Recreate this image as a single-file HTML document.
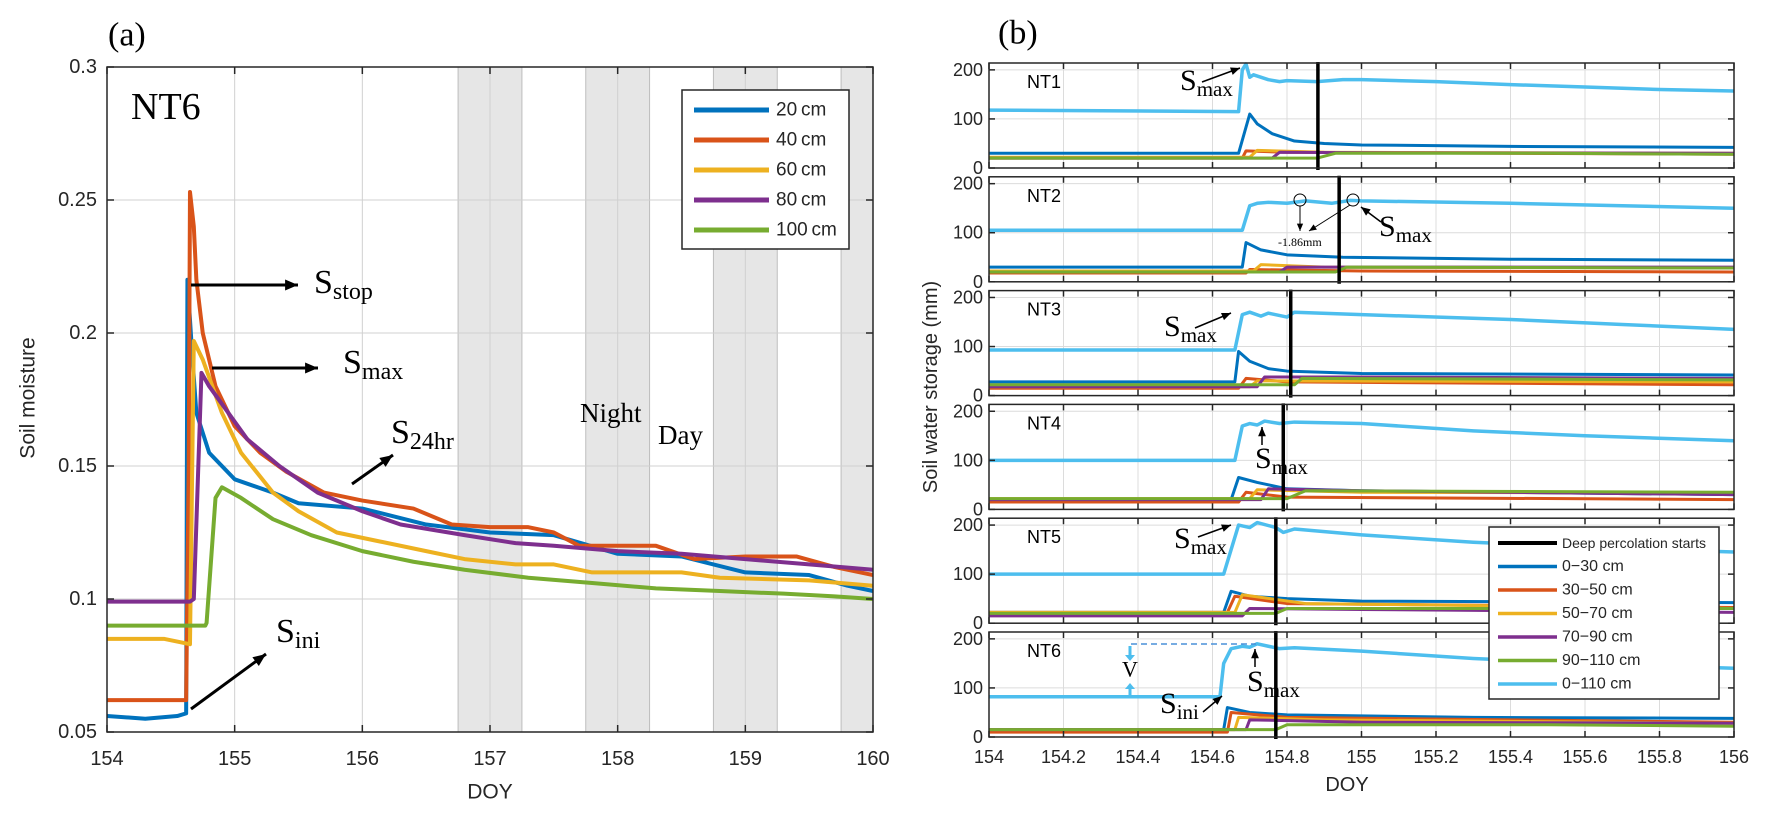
<!DOCTYPE html>
<html><head><meta charset="utf-8"><style>
html,body{margin:0;padding:0;background:#fff;}
svg{display:block;font-family:"Liberation Sans",sans-serif;}
.serif{font-family:"Liberation Serif",serif;}
</style></head><body>
<svg id="fig" width="1769" height="821" viewBox="0 0 1769 821" xmlns="http://www.w3.org/2000/svg"></svg>
<script>
// ---------- Panel (a) data ----------
const aXTicks=[154,155,156,157,158,159,160];
const aYTicks=[0.05,0.1,0.15,0.2,0.25,0.3];
const aYTickLabels=["0.05","0.1","0.15","0.2","0.25","0.3"];
const aBands=[[156.75,157.25],[157.75,158.25],[158.75,159.25],[159.75,160]];
const aNames=["20 cm","40 cm","60 cm","80 cm","100 cm"];
const a20x=[154,154.3,154.55,154.62,154.63,154.67,154.7,154.8,155,155.3,155.5,156,156.5,157,157.5,158,158.5,159,159.5,159.8,160];
const a20y=[0.056,0.055,0.056,0.057,0.22,0.19,0.17,0.155,0.145,0.14,0.136,0.134,0.128,0.125,0.124,0.117,0.116,0.11,0.109,0.105,0.103];
const a40x=[154,154.62,154.64,154.65,154.68,154.7,154.75,154.85,155,155.2,155.4,155.7,156,156.4,156.7,157,157.3,157.5,157.7,158.3,158.6,159,159.4,159.7,160];
const a40y=[0.062,0.062,0.15,0.253,0.24,0.22,0.2,0.18,0.165,0.155,0.148,0.14,0.137,0.134,0.128,0.127,0.127,0.125,0.12,0.12,0.115,0.116,0.116,0.112,0.109];
const a60x=[154,154.45,154.65,154.68,154.75,154.9,155.05,155.3,155.5,155.8,156.1,156.5,156.8,157.2,157.5,157.8,158.5,158.8,159.5,160];
const a60y=[0.085,0.085,0.083,0.197,0.19,0.17,0.155,0.14,0.133,0.125,0.122,0.118,0.115,0.113,0.113,0.11,0.11,0.108,0.107,0.105];
const a80x=[154,154.65,154.68,154.74,154.8,154.95,155.1,155.35,155.65,156,156.3,156.8,157.2,157.5,158,158.5,159,159.5,160];
const a80y=[0.099,0.099,0.1,0.185,0.18,0.17,0.16,0.15,0.14,0.133,0.128,0.124,0.121,0.12,0.118,0.117,0.115,0.113,0.111];
const a100x=[154,154.77,154.78,154.85,154.9,155.05,155.3,155.6,156,156.4,156.8,157.3,157.8,158.3,158.8,159.3,159.7,160];
const a100y=[0.09,0.09,0.091,0.138,0.142,0.138,0.13,0.124,0.118,0.114,0.111,0.108,0.106,0.104,0.103,0.102,0.101,0.1];

// ---------- Panel (b) data ----------
const bXTicks=[154,154.2,154.4,154.6,154.8,155,155.2,155.4,155.6,155.8,156];
const bYTicks=[0,100,200];
const bPanels=["NT1","NT2","NT3","NT4","NT5","NT6"];
const bPerc=[154.883,154.94,154.81,154.79,154.77,154.77];
const bNames=["Deep percolation starts","0\u221230 cm","30\u221250 cm","50\u221270 cm","70\u221290 cm","90\u2212110 cm","0\u2212110 cm"];
// NT1
const nt1_030=[[154,30],[154.67,30],[154.7,110],[154.72,90],[154.76,70],[154.82,55],[154.9,50],[155,47],[155.4,44],[156,42]];
const nt1_3050=[[154,20],[154.68,20],[154.69,35],[154.8,32],[156,28]];
const nt1_5070=[[154,22],[154.7,22],[154.72,36],[154.9,32],[156,30]];
const nt1_7090=[[154,20],[154.76,20],[154.78,32],[155,31],[156,30]];
const nt1_90110=[[154,20],[154.88,20],[154.93,30],[155.5,30],[156,28]];
const nt1_0110=[[154,118],[154.67,115],[154.68,200],[154.69,212],[154.7,185],[154.71,190],[154.75,180],[154.78,176],[154.8,178],[154.88,176],[154.95,180],[155,180],[155.2,176],[155.4,170],[155.6,165],[155.8,160],[156,157]];
// NT2
const nt2_030=[[154,30],[154.68,30],[154.69,80],[154.73,65],[154.8,55],[154.95,50],[155.4,46],[156,44]];
const nt2_3050=[[154,18],[154.69,18],[154.7,25],[155,22],[156,20]];
const nt2_5070=[[154,22],[154.71,22],[154.73,35],[154.9,30],[156,28]];
const nt2_7090=[[154,20],[154.78,20],[154.8,30],[156,30]];
const nt2_90110=[[154,20],[154.93,20],[154.96,30],[156,28]];
const nt2_0110=[[154,105],[154.68,105],[154.7,155],[154.72,160],[154.75,162],[154.8,160],[154.85,165],[154.92,160],[154.97,166],[155,165],[155.4,160],[155.7,155],[156,150]];
// NT3
const nt3_030=[[154,28],[154.66,28],[154.67,90],[154.7,70],[154.75,55],[154.8,50],[155,45],[156,42]];
const nt3_3050=[[154,15],[154.67,15],[154.69,35],[154.8,28],[156,22]];
const nt3_5070=[[154,18],[154.7,18],[154.72,30],[156,28]];
const nt3_7090=[[154,18],[154.72,18],[154.74,38],[155,38],[156,35]];
const nt3_90110=[[154,22],[154.82,22],[154.84,35],[156,32]];
const nt3_0110=[[154,93],[154.66,93],[154.68,165],[154.7,170],[154.73,162],[154.75,168],[154.8,160],[154.82,170],[155,165],[155.4,155],[155.7,145],[156,135]];
// NT4
const nt4_030=[[154,20],[154.65,20],[154.67,65],[154.72,55],[154.8,42],[155,38],[156,30]];
const nt4_3050=[[154,15],[154.67,15],[154.69,35],[154.8,25],[156,20]];
const nt4_5070=[[154,22],[154.7,22],[154.72,40],[155,35],[156,33]];
const nt4_7090=[[154,20],[154.73,20],[154.75,42],[155,38],[156,30]];
const nt4_90110=[[154,22],[154.8,22],[154.85,38],[156,35]];
const nt4_0110=[[154,100],[154.66,100],[154.68,170],[154.7,175],[154.72,172],[154.74,180],[154.78,175],[154.82,178],[155,175],[155.3,160],[155.6,150],[156,140]];
// NT5
const nt5_030=[[154,22],[154.63,22],[154.65,65],[154.7,55],[154.8,50],[155,45],[156,42]];
const nt5_3050=[[154,22],[154.64,22],[154.66,55],[154.8,40],[156,32]];
const nt5_5070=[[154,22],[154.66,22],[154.68,58],[154.85,40],[156,30]];
const nt5_7090=[[154,15],[154.68,15],[154.7,30],[155,28],[156,22]];
const nt5_90110=[[154,20],[154.77,20],[154.8,30],[156,30]];
const nt5_0110=[[154,100],[154.63,100],[154.67,200],[154.7,195],[154.72,205],[154.77,195],[154.79,185],[154.82,192],[155,180],[155.3,165],[155.6,155],[156,145]];
// NT6
const nt6_030=[[154,15],[154.63,15],[154.64,60],[154.7,50],[154.8,45],[155.3,40],[156,38]];
const nt6_3050=[[154,10],[154.64,10],[154.65,50],[154.8,40],[156,30]];
const nt6_5070=[[154,15],[154.66,15],[154.67,40],[154.9,35],[156,28]];
const nt6_7090=[[154,15],[154.69,15],[154.7,35],[155,30],[156,28]];
const nt6_90110=[[154,15],[154.77,15],[154.8,25],[155.5,25],[156,22]];
const nt6_0110=[[154,82],[154.62,82],[154.63,150],[154.65,180],[154.68,185],[154.7,183],[154.72,190],[154.75,185],[154.78,180],[154.82,182],[155,175],[155.3,160],[155.6,150],[156,140]];

const bData=[
 [nt1_030,nt1_3050,nt1_5070,nt1_7090,nt1_90110,nt1_0110],
 [nt2_030,nt2_3050,nt2_5070,nt2_7090,nt2_90110,nt2_0110],
 [nt3_030,nt3_3050,nt3_5070,nt3_7090,nt3_90110,nt3_0110],
 [nt4_030,nt4_3050,nt4_5070,nt4_7090,nt4_90110,nt4_0110],
 [nt5_030,nt5_3050,nt5_5070,nt5_7090,nt5_90110,nt5_0110],
 [nt6_030,nt6_3050,nt6_5070,nt6_7090,nt6_90110,nt6_0110]];

const COLORS=["#0072BD","#D95319","#EDB120","#7E2F8E","#77AC30","#4DBEEE"];
const NS="http://www.w3.org/2000/svg";
const svg=document.getElementById('fig');

function mk(tag,parent,attrs){const e=document.createElementNS(NS,tag);for(const k in attrs)e.setAttribute(k,attrs[k]);parent.appendChild(e);return e;}
function txt(parent,x,y,s,size,anchor,cls){const t=mk('text',parent,{x:x,y:y,'font-size':size,'text-anchor':anchor||'start','dominant-baseline':'central',fill:'#262626'});if(cls)t.setAttribute('class',cls);t.textContent=s;return t;}
function arrow(parent,x1,y1,x2,y2,w,hl){
  const g=mk('g',parent,{});
  mk('line',g,{x1:x1,y1:y1,x2:x2,y2:y2,stroke:'#000','stroke-width':w});
  const a=Math.atan2(y2-y1,x2-x1),h=hl||12;
  const p=[[x2,y2],[x2-h*Math.cos(a-0.4),y2-h*Math.sin(a-0.4)],[x2-h*Math.cos(a+0.4),y2-h*Math.sin(a+0.4)]];
  mk('polygon',g,{points:p.map(q=>q.join(',')).join(' '),fill:'#000'});
  return g;
}
function sub(parent,x,y,main,subs,size,subsize,dy){
  const t=mk('text',parent,{x:x,y:y,'font-size':size,fill:'#000','dominant-baseline':'central',class:'serif'});
  const a=mk('tspan',t,{});a.textContent=main;
  const b=mk('tspan',t,{'font-size':subsize,dy:dy});b.textContent=subs;
  return t;
}

// ================= Panel (a) =================
const AL=107,AR=873,AT=67,AB=732;
const ax=v=>AL+(v-154)/6*(AR-AL);
const ay=v=>AB-(v-0.05)/0.25*(AB-AT);
const pa=mk('g',svg,{});


aBands.forEach(b=>{
  const r=mk('rect',pa,{x:ax(b[0]),y:AT,width:ax(b[1])-ax(b[0]),height:AB-AT,fill:'#e6e6e6',stroke:'#bdbdbd','stroke-width':1});
  
  
});
aXTicks.forEach(v=>{mk('line',pa,{x1:ax(v),x2:ax(v),y1:AT,y2:AB,stroke:'#d0d0d0','stroke-width':1});});
aYTicks.forEach(v=>{mk('line',pa,{x1:AL,x2:AR,y1:ay(v),y2:ay(v),stroke:'#d0d0d0','stroke-width':1});});
const aSeries=[[a20x,a20y],[a40x,a40y],[a60x,a60y],[a80x,a80y],[a100x,a100y]];
aSeries.forEach((s,i)=>{
  const pts=s[0].map((x,j)=>ax(x)+','+ay(s[1][j])).join(' ');
  const pl=mk('polyline',pa,{points:pts,fill:'none',stroke:COLORS[i],'stroke-width':4,'stroke-linejoin':'round'});
  
  
});
mk('rect',pa,{x:AL,y:AT,width:AR-AL,height:AB-AT,fill:'none',stroke:'#262626','stroke-width':1.5});
aXTicks.forEach(v=>{
  mk('line',pa,{x1:ax(v),x2:ax(v),y1:AB,y2:AB-7,stroke:'#262626','stroke-width':1.5});
  mk('line',pa,{x1:ax(v),x2:ax(v),y1:AT,y2:AT+7,stroke:'#262626','stroke-width':1.5});
  const t=txt(pa,ax(v),759,String(v),20,'middle');
  
  
});
aYTicks.forEach((v,i)=>{
  mk('line',pa,{x1:AL,x2:AL+7,y1:ay(v),y2:ay(v),stroke:'#262626','stroke-width':1.5});
  mk('line',pa,{x1:AR,x2:AR-7,y1:ay(v),y2:ay(v),stroke:'#262626','stroke-width':1.5});
  const t=txt(pa,97,ay(v),aYTickLabels[i],20,'end');
  
  
});
let t;
t=txt(pa,490,792,'DOY',21,'middle');


t=txt(pa,0,0,'Soil moisture',21,'middle');
t.setAttribute('transform','translate(28,398) rotate(-90)');


t=txt(pa,108,35,'(a)',34,'start','serif');t.setAttribute('fill','#000');


t=txt(pa,131,107,'NT6',38,'start','serif');t.setAttribute('fill','#000');


t=txt(pa,580,413,'Night',27,'start','serif');t.setAttribute('fill','#000');


t=txt(pa,658,435,'Day',27,'start','serif');t.setAttribute('fill','#000');


// annotations a
let g;
g=arrow(pa,191,285,298,285,3,14);


g=sub(pa,314,282,'S','stop',34,24,10);


g=arrow(pa,212,368,318,368,3,14);


g=sub(pa,343,362,'S','max',34,24,10);


g=arrow(pa,352,484,393,455,3,14);


g=sub(pa,391,432,'S','24hr',34,24,10);


g=arrow(pa,191,709,266,654,3,14);


g=sub(pa,276,631,'S','ini',34,24,10);


// legend a
const la=mk('g',pa,{});


mk('rect',la,{x:682,y:90,width:167,height:159,fill:'#fff',stroke:'#262626','stroke-width':1.5});
aNames.forEach((n,i)=>{
  const y=110+i*30;
  const e=mk('g',la,{});
  
  
  mk('line',e,{x1:694,x2:769,y1:y,y2:y,stroke:COLORS[i],'stroke-width':5});
  txt(e,776,y,n.replace(' ','\u2009'),19,'start');
});

// ================= Panel (b) =================
const BL=989,BR=1734,BT0=63,BSTEP=113.8,BH=105,BMAX=214;
const bx=v=>BL+(v-154)/2*(BR-BL);
const pb=mk('g',svg,{});


bPanels.forEach((name,p)=>{
  const top=BT0+p*BSTEP,bot=top+BH;
  const by=v=>bot-v/BMAX*BH;
  const sp=mk('g',pb,{});
  
  
  mk('rect',sp,{x:BL,y:top,width:BR-BL,height:BH,fill:'#fff'});
  bXTicks.forEach(v=>mk('line',sp,{x1:bx(v),x2:bx(v),y1:top,y2:bot,stroke:'#dcdcdc','stroke-width':1}));
  bYTicks.forEach(v=>mk('line',sp,{x1:BL,x2:BR,y1:by(v),y2:by(v),stroke:'#dcdcdc','stroke-width':1}));
  bData[p].forEach((s,i)=>{
    const pts=s.map(q=>bx(q[0])+','+by(q[1])).join(' ');
    const pl=mk('polyline',sp,{points:pts,fill:'none',stroke:COLORS[i],'stroke-width':i==5?3.5:3,'stroke-linejoin':'round'});
    
    
  });
  const vl=mk('line',sp,{x1:bx(bPerc[p]),x2:bx(bPerc[p]),y1:top-1,y2:bot+2,stroke:'#000','stroke-width':3.5});
  
  
  mk('rect',sp,{x:BL,y:top,width:BR-BL,height:BH,fill:'none',stroke:'#262626','stroke-width':1.5});
  bXTicks.forEach(v=>{
    mk('line',sp,{x1:bx(v),x2:bx(v),y1:bot,y2:bot-6,stroke:'#262626','stroke-width':1.5});
    mk('line',sp,{x1:bx(v),x2:bx(v),y1:top,y2:top+6,stroke:'#262626','stroke-width':1.5});
  });
  bYTicks.forEach(v=>{
    mk('line',sp,{x1:BL,x2:BL+6,y1:by(v),y2:by(v),stroke:'#262626','stroke-width':1.5});
    mk('line',sp,{x1:BR,x2:BR-6,y1:by(v),y2:by(v),stroke:'#262626','stroke-width':1.5});
    const tl=txt(sp,983,by(v),String(v),18,'end');
    
    
  });
  const nl=txt(sp,1027,top+19,name,18,'start');
  nl.setAttribute('fill','#000');
  
  
});
const bBot=BT0+5*BSTEP+BH;
bXTicks.forEach(v=>{
  const tl=txt(pb,bx(v),bBot+20,String(v),18,'middle');
  
  
});
t=txt(pb,1347,785,'DOY',20,'middle');


t=txt(pb,0,0,'Soil water storage (mm)',20,'middle');
t.setAttribute('transform','translate(931,387) rotate(-90)');


t=txt(pb,998,33,'(b)',34,'start','serif');t.setAttribute('fill','#000');



// annotations b
const ann=mk('g',pb,{});


sub(ann,1180,80,'S','max',30,21,9);
arrow(ann,1202,82,1240,68,1.5,10);
// NT2
mk('circle',ann,{cx:1300,cy:200,r:6,fill:'none',stroke:'#000','stroke-width':1});
mk('circle',ann,{cx:1353,cy:200,r:6,fill:'none',stroke:'#000','stroke-width':1});
arrow(ann,1300,206,1300,231,1,8);
arrow(ann,1350,205,1309,231,1,8);
t=txt(ann,1278,242,'-1.86mm',12,'start','serif');t.setAttribute('fill','#000');


sub(ann,1379,226,'S','max',30,21,9);
arrow(ann,1381,222,1361,207,1.5,10);
// NT3
sub(ann,1164,326,'S','max',30,21,9);
arrow(ann,1195,328,1231,313,1.5,10);
// NT4
arrow(ann,1262,445,1262,427,1.5,10);
sub(ann,1255,458,'S','max',30,21,9);
// NT5
sub(ann,1174,538,'S','max',30,21,9);
arrow(ann,1198,537,1231,525,1.5,10);
// NT6
arrow(ann,1255,667,1255,649,1.5,10);
sub(ann,1247,681,'S','max',30,21,9);
sub(ann,1160,703,'S','ini',30,21,9);
arrow(ann,1203,712,1222,696,1.5,10);
mk('line',ann,{x1:1131,x2:1256,y1:644,y2:644,stroke:'#4a90d9','stroke-width':1.5,'stroke-dasharray':'6,4'});
mk('line',ann,{x1:1130,x2:1130,y1:646,y2:656,stroke:'#4DBEEE','stroke-width':3});
mk('polygon',ann,{points:'1125,655 1135,655 1130,661',fill:'#4DBEEE'});
mk('line',ann,{x1:1130,x2:1130,y1:688,y2:698,stroke:'#4DBEEE','stroke-width':3});
mk('polygon',ann,{points:'1125,689 1135,689 1130,683',fill:'#4DBEEE'});
t=txt(ann,1130,669,'V',22,'middle','serif');t.setAttribute('fill','#000');



// legend b
const lb=mk('g',pb,{});


mk('rect',lb,{x:1489,y:527,width:230,height:172,fill:'#fff',stroke:'#262626','stroke-width':1.5});
bNames.forEach((n,i)=>{
  const y=543+i*23.5;
  const e=mk('g',lb,{});
  
  
  mk('line',e,{x1:1498,x2:1557,y1:y,y2:y,stroke:i==0?'#000':COLORS[i-1],'stroke-width':i==0?4:3.5});
  txt(e,1562,y,n,i==0?14:16,'start');
});
</script>
</body></html>
